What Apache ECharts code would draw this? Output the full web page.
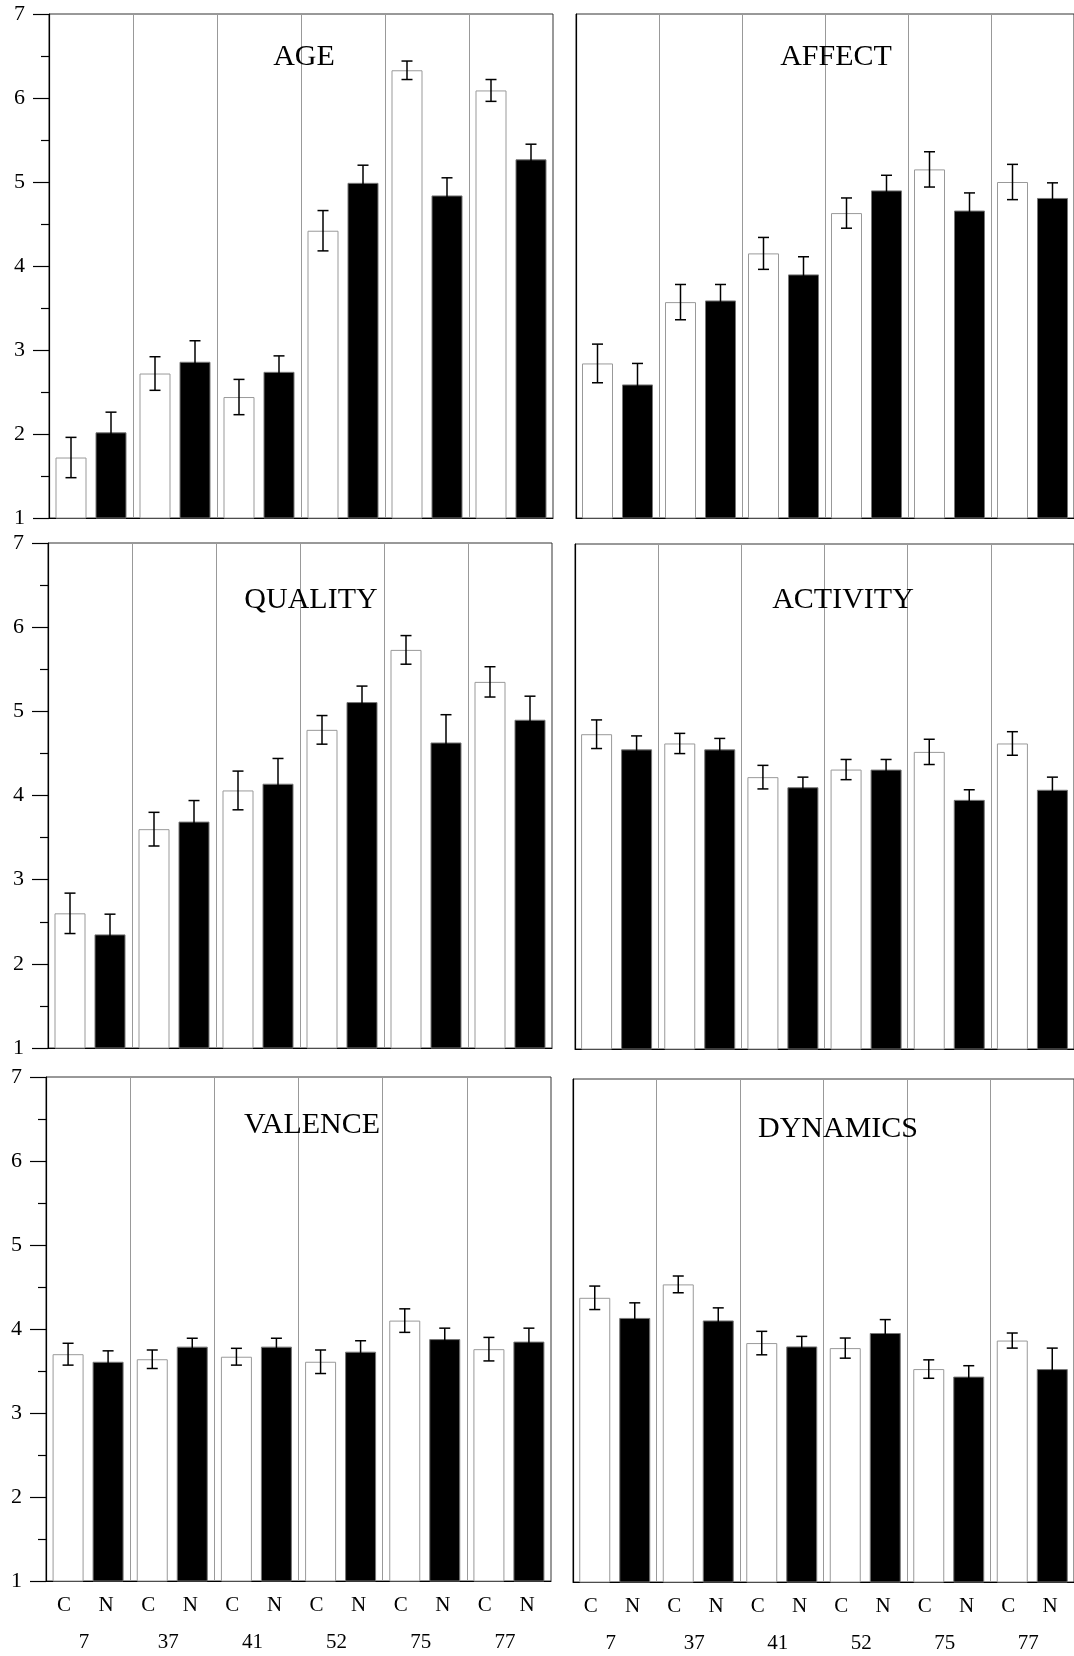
<!DOCTYPE html>
<html>
<head>
<meta charset="utf-8">
<title>Ratings by excerpt</title>
<script src="https://cdn.jsdelivr.net/npm/echarts@6/dist/echarts.min.js"></script>
<style>
    html, body { margin: 0; padding: 0; background: #fff; }
    #main { width: 1074px; height: 1656px; }
</style>
</head>
<body>
<div id="main"></div>
<script type="text/javascript">

    // excerpts and conditions
    var groups = ['7', '37', '41', '52', '75', '77'];
    var conds = ['C', 'N'];

    // means (C = white bars, N = black bars) and error bar half-lengths
    var ageC = [1.72, 2.72, 2.44, 4.42, 6.33, 6.09];
    var ageN = [2.02, 2.86, 2.74, 4.99, 4.84, 5.27];
    var ageErrC = [0.24, 0.20, 0.21, 0.24, 0.11, 0.13];
    var ageErrN = [0.24, 0.25, 0.19, 0.21, 0.21, 0.18];

    var affectC = [2.84, 3.57, 4.15, 4.63, 5.15, 5.00];
    var affectN = [2.59, 3.59, 3.90, 4.90, 4.66, 4.81];
    var affectErrC = [0.23, 0.21, 0.19, 0.18, 0.21, 0.21];
    var affectErrN = [0.25, 0.19, 0.21, 0.18, 0.21, 0.18];

    var qualityC = [2.60, 3.60, 4.06, 4.78, 5.73, 5.35];
    var qualityN = [2.35, 3.69, 4.14, 5.11, 4.63, 4.90];
    var qualityErrC = [0.24, 0.20, 0.23, 0.17, 0.17, 0.18];
    var qualityErrN = [0.24, 0.25, 0.30, 0.19, 0.33, 0.28];

    var activityC = [4.74, 4.63, 4.23, 4.32, 4.53, 4.63];
    var activityN = [4.56, 4.56, 4.11, 4.32, 3.96, 4.08];
    var activityErrC = [0.17, 0.12, 0.14, 0.12, 0.15, 0.14];
    var activityErrN = [0.16, 0.13, 0.12, 0.12, 0.12, 0.15];

    var valenceC = [3.70, 3.64, 3.67, 3.61, 4.10, 3.76];
    var valenceN = [3.61, 3.79, 3.79, 3.73, 3.88, 3.85];
    var valenceErrC = [0.13, 0.11, 0.10, 0.14, 0.14, 0.14];
    var valenceErrN = [0.13, 0.10, 0.10, 0.13, 0.13, 0.16];

    var dynamicsC = [4.39, 4.55, 3.85, 3.79, 3.54, 3.88];
    var dynamicsN = [4.15, 4.12, 3.81, 3.97, 3.45, 3.54];
    var dynamicsErrC = [0.14, 0.10, 0.14, 0.12, 0.11, 0.09];
    var dynamicsErrN = [0.18, 0.15, 0.12, 0.16, 0.13, 0.25];

    var panels = [
        {name: 'AGE', c: ageC, n: ageN, ec: ageErrC, en: ageErrN},
        {name: 'AFFECT', c: affectC, n: affectN, ec: affectErrC, en: affectErrN},
        {name: 'QUALITY', c: qualityC, n: qualityN, ec: qualityErrC, en: qualityErrN},
        {name: 'ACTIVITY', c: activityC, n: activityN, ec: activityErrC, en: activityErrN},
        {name: 'VALENCE', c: valenceC, n: valenceN, ec: valenceErrC, en: valenceErrN},
        {name: 'DYNAMICS', c: dynamicsC, n: dynamicsN, ec: dynamicsErrC, en: dynamicsErrN}
    ];

    // layout (pixels)
    var frames = [
        {left: 49, top: 14, width: 504, height: 504},
        {left: 576, top: 14, width: 504, height: 504},
        {left: 48, top: 543, width: 504, height: 505},
        {left: 575, top: 544, width: 504, height: 505},
        {left: 46, top: 1077, width: 505, height: 504},
        {left: 573, top: 1079, width: 504, height: 503}
    ];
    var titlePos = [[304, 57], [836, 57], [311, 600], [843, 600], [312, 1125], [838, 1129]];

    var FONT = 'Liberation Serif';
    var BAR_W = 31, BAR_GAP = 9;
    var OFF = (BAR_W + BAR_GAP) / 2;

    function errorBars(offset) {
        return function (params, api) {
            var x = api.coord([api.value(0), api.value(1)])[0] + offset;
            var hi = api.coord([api.value(0), api.value(2)])[1];
            var lo = api.coord([api.value(0), api.value(3)])[1];
            var cap = 5.5;
            var st = {stroke: '#000', lineWidth: 1.5};
            return {
                type: 'group',
                children: [
                    {type: 'line', shape: {x1: x, y1: hi, x2: x, y2: lo}, style: st},
                    {type: 'line', shape: {x1: x - cap, y1: hi, x2: x + cap, y2: hi}, style: st},
                    {type: 'line', shape: {x1: x - cap, y1: lo, x2: x + cap, y2: lo}, style: st}
                ]
            };
        };
    }

    var myChart = echarts.init(document.getElementById('main'));

    var grid = [], xAxis = [], yAxis = [], series = [], title = [];
    var subLabels = [];
    groups.forEach(function () { subLabels.push(conds[0], conds[1]); });

    panels.forEach(function (p, i) {
        var leftCol = (i % 2 === 0);
        var bottomRow = (i >= 4);
        grid.push({
            left: frames[i].left, top: frames[i].top,
            width: frames[i].width, height: frames[i].height,
            show: true, borderColor: '#333', borderWidth: 1, backgroundColor: 'transparent'
        });
        title.push({
            text: p.name,
            left: titlePos[i][0], top: titlePos[i][1],
            textAlign: 'center', textVerticalAlign: 'middle', padding: 0,
            textStyle: {fontFamily: FONT, fontSize: 30, fontWeight: 'normal', color: '#000'}
        });
        xAxis.push({
            type: 'category', gridIndex: i, data: groups,
            axisLine: {lineStyle: {color: '#000', width: 1}},
            axisTick: {show: false},
            axisLabel: {
                show: bottomRow, margin: 51, padding: [0, 8, 0, 0],
                fontFamily: FONT, fontSize: 21, color: '#000'
            },
            splitLine: {show: true, interval: 0, lineStyle: {color: '#999', width: 1}}
        });
        yAxis.push({
            type: 'value', gridIndex: i, min: 1, max: 7, interval: 1,
            axisLine: {show: true, lineStyle: {color: '#000', width: 1.2}},
            axisTick: {show: leftCol, length: 16, lineStyle: {color: '#000', width: 1.2}},
            minorTick: {show: leftCol, splitNumber: 2, length: 8, lineStyle: {color: '#000', width: 1.2}},
            axisLabel: {show: leftCol, margin: 24, fontFamily: FONT, fontSize: 22, color: '#000'},
            splitLine: {show: false}
        });

        series.push({
            type: 'bar', xAxisIndex: i, yAxisIndex: i, data: p.c,
            barWidth: BAR_W, barGap: (BAR_GAP / BAR_W * 100) + '%',
            itemStyle: {color: '#fff', borderColor: '#999', borderWidth: 1},
            silent: true
        });
        series.push({
            type: 'bar', xAxisIndex: i, yAxisIndex: i, data: p.n,
            barWidth: BAR_W, barGap: (BAR_GAP / BAR_W * 100) + '%',
            itemStyle: {color: '#000', borderColor: '#777', borderWidth: 1},
            silent: true
        });
        series.push({
            type: 'custom', xAxisIndex: i, yAxisIndex: i, z: 5, silent: true,
            renderItem: errorBars(-OFF),
            encode: {x: 0, y: [1, 2, 3]},
            data: p.c.map(function (v, k) { return [k, v, v + p.ec[k], v - p.ec[k]]; })
        });
        series.push({
            type: 'custom', xAxisIndex: i, yAxisIndex: i, z: 5, silent: true,
            renderItem: errorBars(OFF),
            encode: {x: 0, y: [1, 2, 3]},
            data: p.n.map(function (v, k) { return [k, v, v + p.en[k], v - p.en[k]]; })
        });
    });

    // C / N labels under the two bottom panels (extra axes after the six main ones)
    [4, 5].forEach(function (g) {
        xAxis.push({
            type: 'category', gridIndex: g, data: subLabels, position: 'bottom',
            axisLine: {show: false}, axisTick: {show: false}, splitLine: {show: false},
            axisLabel: {
                margin: 14, interval: 0, padding: [0, 6, 0, 0],
                fontFamily: FONT, fontSize: 21, color: '#000'
            }
        });
    });

    var option = {
        animation: false,
        backgroundColor: '#fff',
        title: title,
        grid: grid,
        xAxis: xAxis,
        yAxis: yAxis,
        series: series
    };
    myChart.setOption(option);

</script>
</body>
</html>
